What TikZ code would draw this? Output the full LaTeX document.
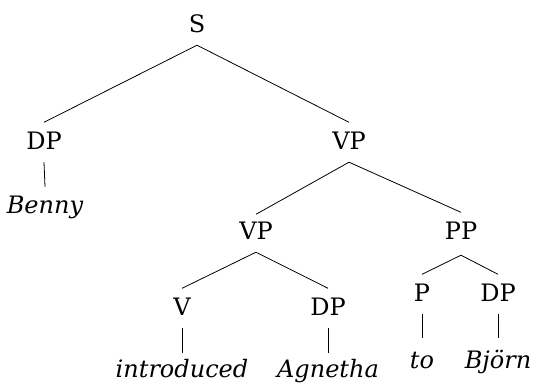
\documentclass[tikz,border=0pt]{standalone}
\usepackage{fontspec}
\setmainfont{DejaVu Serif}
\begin{document}
\begin{tikzpicture}[x=1pt,y=-1pt,
  cat/.style={anchor=base,inner sep=0pt,font=\fontsize{24}{28}\selectfont,text height=26.5pt,text depth=13pt},
  word/.style={anchor=base,inner sep=0pt,font=\fontsize{24}{28}\selectfont\itshape,text height=25pt,text depth=0pt},
  edge/.style={line width=0.8pt}]
\useasboundingbox (0,0) rectangle (535,384);
\node[cat] (S) at (197,32) {S};
\node[cat] (DPa) at (44,149) {DP};
\node[cat] (VPa) at (349,149) {VP};
\node[word,text height=26pt] (benny) at (45,213) {Benny};
\node[cat,text height=24.5pt] (VPb) at (256,239) {VP};
\node[cat,text depth=16pt] (PP) at (461,239) {PP};
\node[cat] (V) at (182,315) {V};
\node[cat] (DPb) at (328,315) {DP};
\node[cat] (P) at (422,301) {P};
\node[cat] (DPc) at (498,301) {DP};
\node[word,text height=24pt] (intro) at (182,377) {introduced};
\node[word,text height=24pt] (agn) at (328,377) {Agnetha};
\node[word,text height=30pt] (to) at (422,368) {to};
\node[word,text height=30pt] (bjorn) at (498,368) {Björn};
\draw[edge] (S.south) -- (DPa.north);
\draw[edge] (S.south) -- (VPa.north);
\draw[edge] (DPa.south) -- (benny.north);
\draw[edge] (VPa.south) -- (VPb.north);
\draw[edge] (VPa.south) -- (PP.north);
\draw[edge] (VPb.south) -- (V.north);
\draw[edge] (VPb.south) -- (DPb.north);
\draw[edge] (PP.south) -- (P.north);
\draw[edge] (PP.south) -- (DPc.north);
\draw[edge] (V.south) -- (intro.north);
\draw[edge] (DPb.south) -- (agn.north);
\draw[edge] (P.south) -- (to.north);
\draw[edge] (DPc.south) -- (bjorn.north);
\end{tikzpicture}
\end{document}
